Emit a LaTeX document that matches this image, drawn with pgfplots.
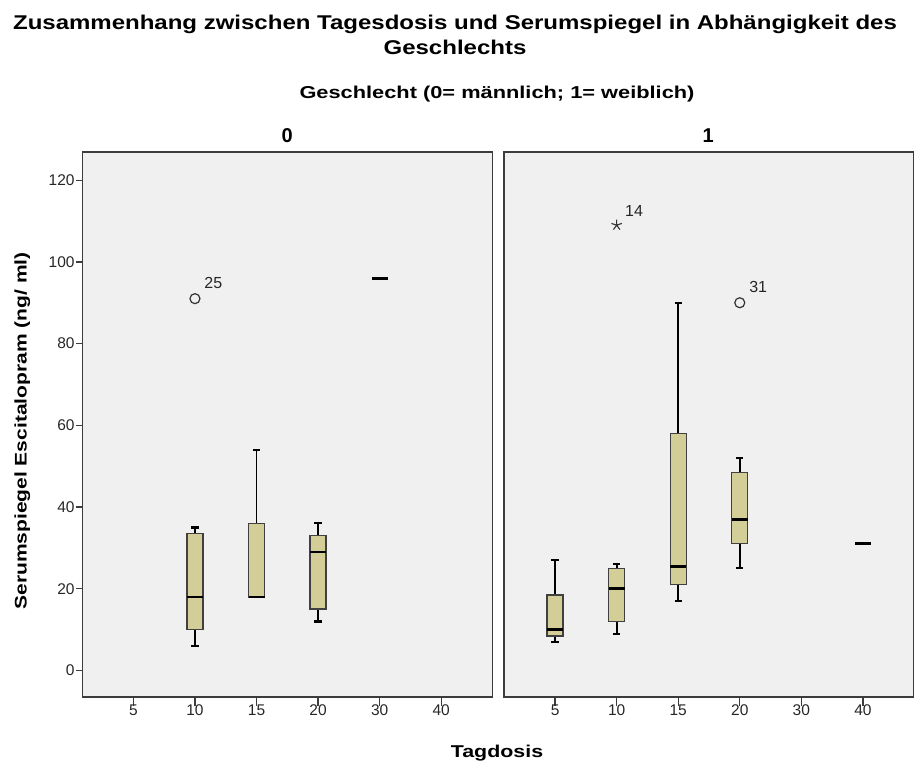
\documentclass[border=0pt]{standalone}
\usepackage{fontspec}
\setmainfont{Liberation Sans}
\usepackage{graphicx}
\usepackage{pgfplots}
\pgfplotsset{compat=1.18}
\definecolor{panelbg}{RGB}{240,240,240}
\definecolor{boxfill}{RGB}{211,206,151}
\definecolor{framec}{RGB}{60,60,60}
\newcommand{\btxt}[3]{\scalebox{1}[#2]{\fontsize{#1}{#1}\selectfont\bfseries #3}}
\tikzset{olab/.style={anchor=base west, font=\fontsize{16}{18}\selectfont, text=black!85}}
% box: position, lower whisker, lower quartile, median, upper quartile, upper whisker
\newcommand{\boxp}[6]{%
  \pgfmathsetmacro\bxL{#1-0.13}\pgfmathsetmacro\bxR{#1+0.13}%
  \pgfmathsetmacro\cpL{#1-0.06}\pgfmathsetmacro\cpR{#1+0.06}%
  \addplot[black, line width=1.9pt] coordinates {(#1,#2) (#1,#3)};
  \addplot[black, line width=1.9pt] coordinates {(#1,#5) (#1,#6)};
  \addplot[black, line width=2.2pt] coordinates {(\cpL,#2) (\cpR,#2)};
  \addplot[black, line width=2.2pt] coordinates {(\cpL,#6) (\cpR,#6)};
  \addplot[draw=black!75, fill=boxfill, line width=1.4pt] coordinates {(\bxL,#3) (\bxR,#3) (\bxR,#5) (\bxL,#5)} -- cycle;
  \addplot[black, line width=2.8pt] coordinates {(\bxL,#4) (\bxR,#4)};
}
% single value: position, value
\newcommand{\medp}[2]{%
  \pgfmathsetmacro\bxL{#1-0.13}\pgfmathsetmacro\bxR{#1+0.13}%
  \addplot[black, line width=2.8pt] coordinates {(\bxL,#2) (\bxR,#2)};
}
\pgfplotsset{
  panel/.style={
    scale only axis, width=410pt, height=545pt,
    xmin=-0.83, xmax=5.83, ymin=-6.5, ymax=126.9,
    xtick={0,1,2,3,4,5}, xticklabels={5,10,15,20,30,40},
    tick align=outside, xtick pos=bottom, ytick pos=left,
    axis background/.style={fill=panelbg},
    axis line style={draw=framec, line width=1.5pt},
    xtick style={draw=framec, line width=1.3pt, /pgfplots/major tick length=9pt},
    ytick style={draw=framec, line width=1.3pt, /pgfplots/major tick length=6pt},
    ticklabel style={font=\fontsize{15.5}{18}\selectfont, text=black!85},
    /pgf/number format/assume math mode=true,
    clip=false,
  },
  outc/.style={only marks, mark=o, mark size=5pt, mark options={line width=1.2pt, draw=black!80}},
  outs/.style={only marks, mark=star, mark size=5.5pt, mark options={line width=1.1pt, draw=black!80}},
}
\begin{document}
\begin{tikzpicture}
\useasboundingbox (0pt,0pt) rectangle (914pt,-765pt);
% ---------------- panel 0 (maennlich)
\begin{axis}[panel, at={(82.3pt,-697pt)}, anchor=south west,
  ytick={0,20,40,60,80,100,120}]
\boxp{1}{6}{10}{18}{33.5}{35}
\boxp{2}{18}{18}{18}{36}{54}
\boxp{3}{12}{15}{29}{33}{36}
\medp{4}{96}
\addplot[outc] coordinates {(1,91)};
\node[olab, xshift=6pt, yshift=10pt] at (axis cs:1,91) {25};
\end{axis}
% ---------------- panel 1 (weiblich)
\begin{axis}[panel, at={(504pt,-697pt)}, anchor=south west, ytick=\empty]
\boxp{0}{7}{8.4}{10}{18.5}{27}
\boxp{1}{9}{12}{20}{25}{26}
\boxp{2}{17}{21}{25.5}{58}{90}
\boxp{3}{25}{31}{37}{48.5}{52}
\medp{5}{31}
\addplot[outs] coordinates {(1,109)};
\addplot[outc] coordinates {(3,90)};
\node[olab, xshift=5pt, yshift=8.5pt] at (axis cs:1,109) {14};
\node[olab, xshift=6pt, yshift=10pt] at (axis cs:3,90) {31};
\end{axis}
% ---------------- titles and labels
\node[anchor=base] at (455pt,-30pt) {\btxt{24}{0.83}{Zusammenhang zwischen Tagesdosis und Serumspiegel in Abhängigkeit des}};
\node[anchor=base] at (455pt,-54.5pt) {\btxt{24}{0.83}{Geschlechts}};
\node[anchor=base] at (497pt,-98.3pt) {\btxt{21.8}{0.79}{Geschlecht (0= männlich; 1= weiblich)}};
\node[anchor=base] at (287.3pt,-142.7pt) {\fontsize{20}{22}\selectfont\bfseries 0};
\node[anchor=base] at (708.2pt,-142.7pt) {\fontsize{20}{22}\selectfont\bfseries 1};
\node[anchor=base] at (497pt,-757pt) {\btxt{21.4}{0.8}{Tagdosis}};
\node[anchor=base, rotate=90] at (26.7pt,-431pt) {\btxt{21}{0.8}{Serumspiegel Escitalopram (ng/ ml)}};
\end{tikzpicture}
\end{document}
